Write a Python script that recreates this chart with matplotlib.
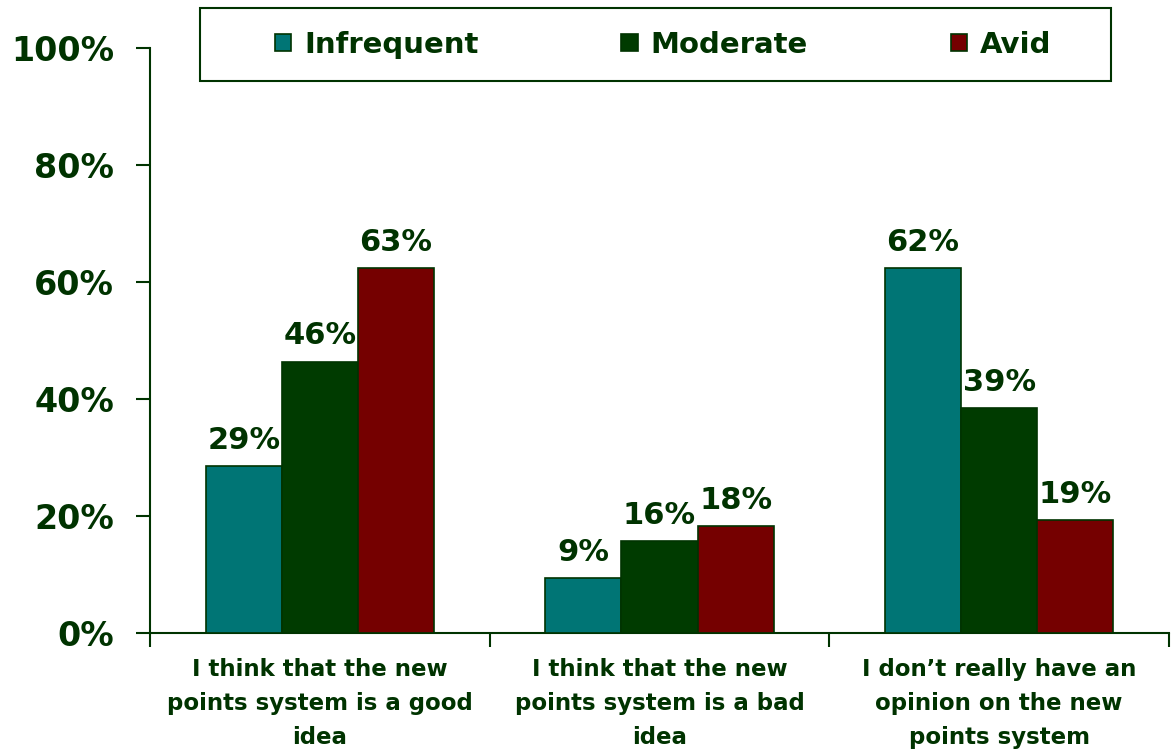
import numpy as np
import matplotlib
matplotlib.use("Agg")
import matplotlib.pyplot as plt
from matplotlib.patches import Rectangle

# ── data ───────────────────────────────────────────────────────────────────
categories = [
    "I think that the new\npoints system is a good\nidea",
    "I think that the new\npoints system is a bad\nidea",
    "I don\u2019t really have an\nopinion on the new\npoints system",
]
series_names = ["Infrequent", "Moderate", "Avid"]
infrequent = [28.5, 9.4, 62.4]
moderate   = [46.4, 15.7, 38.5]
avid       = [62.4, 18.3, 19.3]
infrequent_lbl = ["29%", "9%", "62%"]
moderate_lbl   = ["46%", "16%", "39%"]
avid_lbl       = ["63%", "18%", "19%"]
yticks = [0, 20, 40, 60, 80, 100]

colors = ["#007575", "#003b00", "#750000"]
txt = "#003300"

# ── figure ─────────────────────────────────────────────────────────────────
fig = plt.figure(figsize=(11.71, 7.54), dpi=100)
ax = fig.add_axes([150/1171, 1 - 633/754, 1019/1171, 585/754])

x = np.arange(len(categories))
w = 0.224
values = [infrequent, moderate, avid]
labels = [infrequent_lbl, moderate_lbl, avid_lbl]
for j, (vals, lbls) in enumerate(zip(values, labels)):
    bars = ax.bar(x + (j - 1)*w, vals, w, color=colors[j], edgecolor=txt,
                  linewidth=1.2, label=series_names[j], zorder=3)
    ax.bar_label(bars, lbls, padding=8, fontsize=22, fontweight="bold",
                 color=txt)

ax.set_xlim(-0.5, 2.5)
ax.set_ylim(0, 100)
ax.set_yticks(yticks)
ax.set_yticklabels([f"{t}%" for t in yticks], fontsize=24,
                   fontweight="bold", color=txt)
ax.tick_params(axis="y", direction="out", length=10, width=1.5,
               color=txt, pad=16)

# boundary ticks (major) + category labels (minor)
ax.set_xticks([-0.5, 0.5, 1.5, 2.5])
ax.set_xticklabels([])
ax.tick_params(axis="x", which="major", direction="out", length=10,
               width=1.5, color=txt)
ax.set_xticks(x, minor=True)
ax.set_xticklabels(categories, minor=True, fontsize=16.5, fontweight="bold",
                   color=txt, linespacing=1.6)
ax.tick_params(axis="x", which="minor", length=0, pad=18)

for s in ("top", "right"):
    ax.spines[s].set_visible(False)
for s in ("left", "bottom"):
    ax.spines[s].set_color(txt)
    ax.spines[s].set_linewidth(1.5)

# legend box drawn separately, entries spread inside it
fig.patches.append(Rectangle((200/1171, 1 - 81/754), 911/1171, 73/754,
                             transform=fig.transFigure, fill=False,
                             edgecolor=txt, linewidth=1.5))
leg = fig.legend(loc="center left", bbox_to_anchor=(275/1171, 1 - 45/754),
                 ncol=3, frameon=False,
                 prop={"size": 21, "weight": "bold"},
                 handlelength=0.55, handleheight=0.55, handletextpad=0.45,
                 columnspacing=4.9, borderaxespad=0, borderpad=0)
for t in leg.get_texts():
    t.set_color(txt)

fig.savefig("out.png", dpi=100, facecolor="white")
